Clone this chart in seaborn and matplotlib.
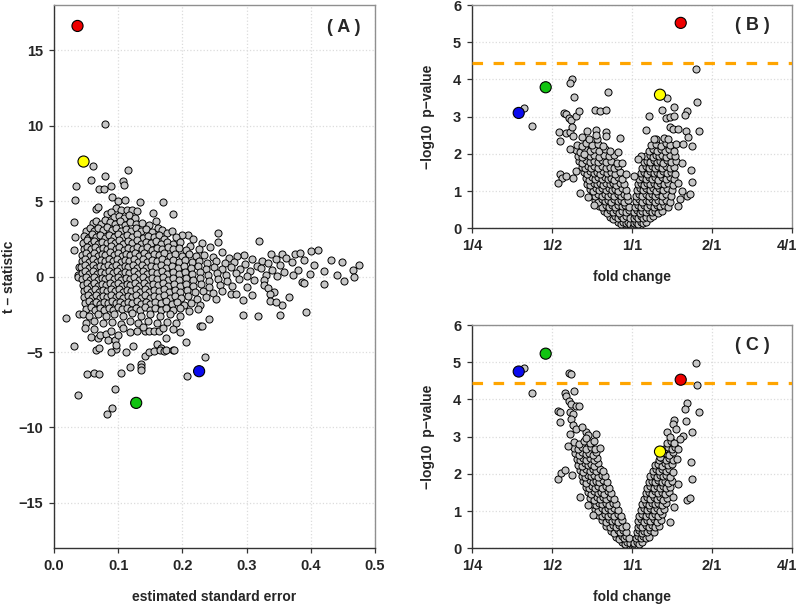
import numpy as np
import matplotlib
matplotlib.use("Agg")
import matplotlib.pyplot as plt
import matplotlib.transforms as mtransforms
import seaborn as sns

# ---------------- panel A : (standard error, t statistic) ----------------
a_upper = [
    (0.079, 10.15), (0.060, 7.35), (0.079, 6.64), (0.115, 7.04), (0.034, 6.00), (0.058, 6.42),
    (0.070, 5.83), (0.078, 5.83), (0.088, 6.00), (0.108, 6.33), (0.109, 6.05), (0.033, 5.10),
    (0.091, 5.27), (0.100, 5.00), (0.111, 5.05), (0.134, 4.98), (0.169, 4.97), (0.065, 4.50),
    (0.069, 4.60), (0.096, 4.55), (0.104, 4.40), (0.113, 4.45), (0.121, 4.42), (0.130, 4.38),
    (0.154, 4.20), (0.185, 4.12), (0.031, 3.60), (0.032, 2.60), (0.031, 1.75), (0.039, 0.64),
    (0.037, 0.12), (0.038, -0.05), (0.159, 3.68), (0.255, 2.90), (0.255, 2.27), (0.320, 2.36),
    (0.208, 2.74), (0.199, 2.78), (0.216, 2.50),
]
a_core = [
    (0.082, 4.15), (0.088, 4.30), (0.094, 3.95), (0.101, 4.05), (0.109, 3.90), (0.117, 4.08), (0.126, 3.86),
    (0.060, 3.55), (0.066, 3.70), (0.073, 3.48), (0.080, 3.75), (0.087, 3.60), (0.095, 3.52), (0.103, 3.68),
    (0.111, 3.45), (0.119, 3.62), (0.128, 3.50), (0.137, 3.58), (0.148, 3.42), (0.162, 3.20), (0.168, 3.12),
    (0.050, 3.05), (0.056, 3.25), (0.062, 3.02), (0.069, 3.20), (0.076, 3.08), (0.083, 3.28), (0.090, 3.10),
    (0.097, 3.22), (0.105, 3.00), (0.112, 3.18), (0.120, 3.05), (0.128, 3.25), (0.136, 3.02), (0.144, 3.15),
    (0.153, 2.98), (0.176, 2.92), (0.183, 3.05),
    (0.047, 2.72), (0.053, 2.55), (0.059, 2.80), (0.065, 2.62), (0.072, 2.75), (0.079, 2.58), (0.086, 2.78),
    (0.093, 2.65), (0.100, 2.82), (0.107, 2.60), (0.114, 2.76), (0.122, 2.62), (0.130, 2.80), (0.138, 2.58),
    (0.146, 2.72), (0.155, 2.60), (0.164, 2.75), (0.172, 2.52), (0.190, 2.60), (0.230, 2.20),
    (0.045, 2.25), (0.051, 2.40), (0.057, 2.18), (0.063, 2.35), (0.069, 2.15), (0.075, 2.32), (0.082, 2.20),
    (0.088, 2.38), (0.095, 2.22), (0.101, 2.42), (0.108, 2.18), (0.115, 2.35), (0.122, 2.20), (0.129, 2.40),
    (0.136, 2.15), (0.143, 2.32), (0.151, 2.22), (0.159, 2.38), (0.167, 2.18), (0.176, 2.30), (0.186, 2.15),
    (0.197, 2.28), (0.212, 2.05), (0.243, 1.95),
    (0.046, 1.85), (0.052, 1.98), (0.058, 1.80), (0.064, 1.95), (0.070, 1.78), (0.076, 1.92), (0.083, 1.82),
    (0.089, 2.00), (0.096, 1.85), (0.102, 1.95), (0.109, 1.78), (0.116, 1.92), (0.123, 1.82), (0.130, 1.98),
    (0.137, 1.80), (0.145, 1.95), (0.152, 1.78), (0.160, 1.92), (0.168, 1.84), (0.177, 1.96), (0.185, 1.80),
    (0.195, 1.90), (0.205, 1.75), (0.226, 1.85), (0.262, 1.62), (0.296, 1.42), (0.338, 1.50), (0.376, 1.52),
    (0.383, 1.56), (0.355, 1.48), (0.400, 1.70), (0.411, 1.76),
    (0.044, 1.45), (0.050, 1.58), (0.056, 1.40), (0.062, 1.55), (0.068, 1.38), (0.074, 1.52), (0.080, 1.42),
    (0.087, 1.60), (0.093, 1.45), (0.099, 1.55), (0.106, 1.38), (0.112, 1.52), (0.119, 1.42), (0.126, 1.58),
    (0.133, 1.40), (0.140, 1.55), (0.147, 1.38), (0.155, 1.52), (0.163, 1.45), (0.171, 1.58), (0.180, 1.40),
    (0.189, 1.52), (0.199, 1.38), (0.210, 1.48), (0.221, 1.35), (0.234, 1.45), (0.248, 1.30), (0.272, 1.25),
    (0.285, 1.40), (0.308, 1.20), (0.324, 1.05), (0.345, 1.15), (0.362, 1.25), (0.390, 1.10), (0.431, 1.10),
    (0.043, 1.05), (0.049, 1.18), (0.055, 1.00), (0.061, 1.15), (0.067, 0.98), (0.073, 1.12), (0.079, 1.02),
    (0.085, 1.20), (0.092, 1.05), (0.098, 1.15), (0.104, 0.98), (0.111, 1.12), (0.117, 1.02), (0.124, 1.18),
    (0.131, 1.00), (0.138, 1.15), (0.145, 0.98), (0.152, 1.12), (0.160, 1.02), (0.168, 1.18), (0.176, 0.98),
    (0.185, 1.10), (0.194, 1.00), (0.204, 1.12), (0.215, 0.95), (0.226, 1.05), (0.239, 0.92), (0.253, 1.02),
    (0.266, 0.88), (0.280, 0.98), (0.298, 0.85), (0.316, 0.72), (0.334, 0.88), (0.352, 0.75), (0.370, 0.95),
    (0.405, 0.78), (0.475, 0.77), (0.448, 0.95),
    (0.042, 0.65), (0.048, 0.78), (0.054, 0.60), (0.060, 0.75), (0.066, 0.58), (0.072, 0.72), (0.078, 0.62),
    (0.084, 0.80), (0.091, 0.65), (0.097, 0.75), (0.103, 0.58), (0.110, 0.72), (0.116, 0.62), (0.123, 0.78),
    (0.130, 0.60), (0.137, 0.75), (0.144, 0.58), (0.151, 0.72), (0.159, 0.62), (0.167, 0.78), (0.175, 0.60),
    (0.184, 0.72), (0.193, 0.58), (0.203, 0.70), (0.213, 0.55), (0.224, 0.68), (0.236, 0.52), (0.249, 0.65),
    (0.262, 0.50), (0.276, 0.62), (0.290, 0.48), (0.306, 0.40), (0.322, 0.55), (0.340, 0.42), (0.358, 0.30),
    (0.380, 0.45), (0.420, 0.35), (0.465, 0.42),
    (0.043, 0.25), (0.049, 0.38), (0.055, 0.20), (0.061, 0.35), (0.067, 0.18), (0.073, 0.32), (0.079, 0.22),
    (0.085, 0.40), (0.092, 0.25), (0.098, 0.35), (0.104, 0.18), (0.111, 0.32), (0.117, 0.22), (0.124, 0.38),
    (0.131, 0.20), (0.138, 0.35), (0.145, 0.18), (0.152, 0.32), (0.160, 0.22), (0.168, 0.38), (0.176, 0.20),
    (0.185, 0.32), (0.194, 0.18), (0.204, 0.30), (0.215, 0.15), (0.227, 0.28), (0.240, 0.12), (0.254, 0.25),
    (0.268, 0.10), (0.284, 0.22), (0.300, 0.05), (0.330, 0.12), (0.348, 0.02), (0.372, 0.08), (0.398, 0.15),
    (0.467, 0.00), (0.440, 0.10),
    (0.044, -0.15), (0.050, -0.02), (0.056, -0.20), (0.062, -0.05), (0.068, -0.22), (0.074, -0.08),
    (0.080, -0.18), (0.086, 0.00), (0.093, -0.15), (0.099, -0.05), (0.105, -0.22), (0.112, -0.08),
    (0.118, -0.18), (0.125, -0.02), (0.132, -0.20), (0.139, -0.05), (0.146, -0.22), (0.153, -0.08),
    (0.161, -0.18), (0.169, -0.02), (0.177, -0.20), (0.186, -0.08), (0.195, -0.22), (0.205, -0.10),
    (0.216, -0.25), (0.228, -0.12), (0.241, -0.28), (0.255, -0.15), (0.270, -0.30), (0.288, -0.18),
    (0.312, -0.25), (0.327, -0.20), (0.386, -0.38), (0.421, -0.51), (0.452, -0.31), (0.390, -0.40),
    (0.045, -0.55), (0.051, -0.42), (0.057, -0.60), (0.063, -0.45), (0.069, -0.62), (0.075, -0.48),
    (0.081, -0.58), (0.087, -0.40), (0.094, -0.55), (0.100, -0.45), (0.106, -0.62), (0.113, -0.48),
    (0.119, -0.58), (0.126, -0.42), (0.133, -0.60), (0.140, -0.45), (0.147, -0.62), (0.154, -0.48),
    (0.162, -0.58), (0.170, -0.42), (0.178, -0.60), (0.187, -0.48), (0.196, -0.62), (0.206, -0.50),
    (0.217, -0.65), (0.229, -0.52), (0.242, -0.68), (0.258, -0.55), (0.278, -0.62), (0.300, -0.70),
    (0.327, -0.55), (0.334, -0.75),
    (0.046, -0.95), (0.052, -0.82), (0.058, -1.00), (0.064, -0.85), (0.070, -1.02), (0.076, -0.88),
    (0.082, -0.98), (0.088, -0.80), (0.095, -0.95), (0.101, -0.85), (0.107, -1.02), (0.114, -0.88),
    (0.120, -0.98), (0.127, -0.82), (0.134, -1.00), (0.141, -0.85), (0.148, -1.02), (0.155, -0.88),
    (0.163, -0.98), (0.171, -0.82), (0.179, -1.00), (0.188, -0.88), (0.197, -1.02), (0.207, -0.90),
    (0.219, -1.05), (0.232, -0.92), (0.247, -1.08), (0.262, -0.95), (0.276, -1.13), (0.284, -1.15),
    (0.343, -0.99), (0.336, -1.17),
    (0.047, -1.35), (0.053, -1.22), (0.059, -1.40), (0.065, -1.25), (0.071, -1.42), (0.077, -1.28),
    (0.083, -1.38), (0.089, -1.20), (0.096, -1.35), (0.102, -1.25), (0.108, -1.42), (0.115, -1.28),
    (0.121, -1.38), (0.128, -1.22), (0.135, -1.40), (0.142, -1.25), (0.149, -1.42), (0.156, -1.28),
    (0.164, -1.38), (0.172, -1.22), (0.180, -1.40), (0.189, -1.28), (0.198, -1.42), (0.209, -1.30),
    (0.222, -1.45), (0.236, -1.35), (0.252, -1.48), (0.295, -1.52), (0.309, -1.24), (0.366, -1.32),
    (0.048, -1.75), (0.054, -1.62), (0.060, -1.80), (0.066, -1.65), (0.072, -1.82), (0.078, -1.68),
    (0.084, -1.78), (0.090, -1.60), (0.097, -1.75), (0.103, -1.65), (0.109, -1.82), (0.116, -1.68),
    (0.122, -1.78), (0.129, -1.62), (0.136, -1.80), (0.143, -1.65), (0.150, -1.82), (0.158, -1.68),
    (0.166, -1.78), (0.174, -1.62), (0.183, -1.80), (0.192, -1.70), (0.202, -1.85), (0.214, -1.72),
    (0.228, -1.88), (0.337, -1.64), (0.355, -1.85), (0.345, -1.70),
    (0.050, -2.15), (0.057, -2.02), (0.064, -2.20), (0.071, -2.05), (0.078, -2.22), (0.085, -2.08),
    (0.092, -2.18), (0.099, -2.00), (0.106, -2.15), (0.113, -2.05), (0.120, -2.22), (0.127, -2.08),
    (0.134, -2.18), (0.141, -2.02), (0.149, -2.20), (0.157, -2.05), (0.166, -2.22), (0.175, -2.08),
    (0.185, -2.18), (0.196, -2.05), (0.210, -2.25), (0.224, -2.12),
]
a_lower = [
    (0.039, -2.50), (0.045, -2.50), (0.055, -2.60), (0.068, -2.45), (0.081, -2.62), (0.094, -2.48),
    (0.108, -2.58), (0.121, -2.42), (0.136, -2.60), (0.150, -2.45), (0.165, -2.62), (0.180, -2.50),
    (0.196, -2.58), (0.019, -2.74), (0.242, -2.83), (0.294, -2.54), (0.317, -2.63), (0.352, -2.54),
    (0.392, -2.34), (0.228, -3.29), (0.230, -3.27),
    (0.050, -3.05), (0.062, -2.95), (0.076, -3.10), (0.091, -2.98), (0.104, -3.12), (0.118, -2.92),
    (0.131, -3.08), (0.146, -2.95), (0.160, -3.10), (0.176, -2.98), (0.190, -3.05), (0.049, -3.38),
    (0.058, -4.00), (0.068, -4.10), (0.072, -3.84),
    (0.081, -3.78), (0.088, -3.62), (0.084, -4.22), (0.095, -4.22), (0.096, -4.80), (0.088, -4.99),
    (0.097, -4.50), (0.112, -4.97), (0.123, -4.60), (0.119, -3.69), (0.129, -3.58), (0.142, -3.60),
    (0.148, -3.62), (0.156, -3.60), (0.163, -3.62), (0.161, -4.49), (0.166, -4.70), (0.196, -3.67),
    (0.206, -4.35), (0.066, -4.88), (0.070, -4.70), (0.108, -3.40), (0.138, -3.35), (0.170, -3.38),
    (0.185, -3.45), (0.062, -3.50), (0.100, -3.85), (0.175, -4.05),
    (0.031, -4.62), (0.051, -6.43), (0.062, -6.36), (0.070, -6.47), (0.104, -6.38), (0.118, -5.99),
    (0.135, -5.77), (0.135, -6.00), (0.135, -6.22), (0.141, -5.25), (0.148, -5.00), (0.156, -4.90),
    (0.165, -4.88), (0.172, -4.90), (0.175, -4.85), (0.185, -4.88), (0.187, -4.88), (0.235, -5.33),
    (0.207, -6.56), (0.095, -7.45), (0.037, -7.88), (0.082, -9.14), (0.090, -8.72),
]

# ---------------- panel B : (log2 fold change, -log10 p) ----------------
b_left = [
    (-0.10, 0.04), (-0.07, 0.08), (-0.05, 0.02), (-0.03, 0.06), (-0.015, 0.03),
    (-0.17, 0.16), (-0.14, 0.12), (-0.11, 0.18), (-0.08, 0.14), (-0.05, 0.17), (-0.02, 0.12),
    (-0.27, 0.30), (-0.24, 0.26), (-0.21, 0.33), (-0.17, 0.28), (-0.14, 0.34), (-0.11, 0.27), (-0.07, 0.32), (-0.03, 0.29),
    (-0.35, 0.46), (-0.31, 0.42), (-0.28, 0.49), (-0.24, 0.44), (-0.20, 0.48), (-0.16, 0.42), (-0.12, 0.47), (-0.08, 0.43), (-0.04, 0.48),
    (-0.41, 0.60), (-0.37, 0.56), (-0.33, 0.63), (-0.29, 0.58), (-0.25, 0.62), (-0.21, 0.57), (-0.17, 0.63), (-0.13, 0.59), (-0.09, 0.62), (-0.04, 0.57),
    (-0.46, 0.76), (-0.42, 0.72), (-0.38, 0.78), (-0.34, 0.73), (-0.30, 0.77), (-0.26, 0.71), (-0.22, 0.78), (-0.18, 0.74), (-0.14, 0.77), (-0.10, 0.72), (-0.05, 0.76),
    (-0.50, 0.90), (-0.46, 0.86), (-0.42, 0.93), (-0.38, 0.88), (-0.34, 0.92), (-0.30, 0.87), (-0.26, 0.93), (-0.22, 0.88), (-0.18, 0.91), (-0.14, 0.86), (-0.10, 0.92), (-0.06, 0.88),
    (-0.53, 1.05), (-0.49, 1.01), (-0.45, 1.08), (-0.41, 1.03), (-0.37, 1.07), (-0.33, 1.02), (-0.29, 1.08), (-0.25, 1.03), (-0.21, 1.06), (-0.17, 1.01), (-0.13, 1.07), (-0.08, 1.03),
    (-0.56, 1.20), (-0.52, 1.16), (-0.48, 1.23), (-0.44, 1.18), (-0.40, 1.22), (-0.36, 1.17), (-0.32, 1.23), (-0.28, 1.18), (-0.24, 1.21), (-0.20, 1.16), (-0.15, 1.22), (-0.10, 1.18),
    (-0.58, 1.35), (-0.54, 1.31), (-0.50, 1.38), (-0.46, 1.33), (-0.42, 1.37), (-0.38, 1.32), (-0.34, 1.38), (-0.30, 1.33), (-0.26, 1.36), (-0.22, 1.31), (-0.17, 1.37), (-0.12, 1.33),
    (-0.60, 1.50), (-0.56, 1.46), (-0.52, 1.53), (-0.48, 1.48), (-0.44, 1.52), (-0.40, 1.47), (-0.36, 1.53), (-0.31, 1.48), (-0.26, 1.51), (-0.21, 1.46), (-0.15, 1.52),
    (-0.63, 1.65), (-0.59, 1.61), (-0.55, 1.68), (-0.51, 1.63), (-0.47, 1.67), (-0.43, 1.62), (-0.38, 1.68), (-0.33, 1.63), (-0.28, 1.66), (-0.23, 1.61), (-0.17, 1.67),
    (-0.66, 1.80), (-0.62, 1.76), (-0.57, 1.83), (-0.53, 1.78), (-0.48, 1.82), (-0.43, 1.77), (-0.38, 1.83), (-0.33, 1.78), (-0.26, 1.81), (-0.19, 1.76),
    (-0.68, 1.95), (-0.63, 1.91), (-0.58, 1.98), (-0.53, 1.93), (-0.47, 1.97), (-0.41, 1.92), (-0.35, 1.98), (-0.29, 1.93), (-0.22, 1.96),
    (-0.70, 2.10), (-0.65, 2.06), (-0.59, 2.13), (-0.53, 2.08), (-0.47, 2.12), (-0.41, 2.07), (-0.34, 2.13), (-0.28, 2.08),
    (-0.69, 2.25), (-0.63, 2.21), (-0.57, 2.28), (-0.50, 2.23), (-0.43, 2.27), (-0.36, 2.22),
    (-0.75, 4.01), (-0.78, 3.91), (-0.72, 3.52), (-0.295, 3.66), (-0.845, 3.11), (-0.82, 3.06), (-0.79, 2.97),
    (-0.76, 2.91), (-0.70, 3.02), (-0.66, 3.15), (-0.457, 3.17), (-0.40, 3.16), (-0.33, 3.17), (-1.25, 2.74),
    (-1.35, 3.22), (-0.91, 2.58), (-0.90, 2.34), (-0.83, 2.57), (-0.77, 2.59), (-0.75, 2.73), (-0.74, 2.48),
    (-0.56, 2.61), (-0.54, 2.40), (-0.45, 2.64), (-0.44, 2.40), (-0.33, 2.58), (-0.33, 2.48), (-0.45, 2.50),
    (-0.145, 2.43), (-0.78, 2.14), (-0.90, 1.45), (-0.875, 1.34), (-0.92, 1.22), (-0.83, 1.41), (-0.74, 1.35),
    (-0.65, 0.94), (-0.55, 0.83), (-0.48, 0.63), (-0.60, 2.00), (-0.62, 2.45), (-0.18, 2.05), (-0.12, 1.75),
    (-0.08, 1.45), (-0.70, 1.55),
]
b_right = [
    (0.01, 0.03), (0.03, 0.07), (0.05, 0.02), (0.07, 0.05), (0.10, 0.08),
    (0.02, 0.14), (0.05, 0.18), (0.08, 0.12), (0.11, 0.17), (0.14, 0.13), (0.18, 0.16),
    (0.02, 0.28), (0.05, 0.32), (0.08, 0.27), (0.11, 0.33), (0.14, 0.28), (0.18, 0.31), (0.22, 0.27), (0.26, 0.33),
    (0.03, 0.44), (0.06, 0.48), (0.10, 0.42), (0.13, 0.47), (0.17, 0.43), (0.21, 0.48), (0.25, 0.44), (0.29, 0.47), (0.33, 0.42), (0.38, 0.46),
    (0.04, 0.58), (0.07, 0.62), (0.11, 0.57), (0.15, 0.63), (0.19, 0.58), (0.23, 0.62), (0.27, 0.57), (0.31, 0.63), (0.35, 0.59), (0.40, 0.62), (0.45, 0.56),
    (0.05, 0.74), (0.09, 0.78), (0.13, 0.72), (0.17, 0.77), (0.21, 0.73), (0.25, 0.78), (0.29, 0.72), (0.33, 0.77), (0.37, 0.73), (0.42, 0.77), (0.47, 0.72),
    (0.05, 0.88), (0.09, 0.92), (0.13, 0.87), (0.17, 0.93), (0.21, 0.88), (0.25, 0.92), (0.29, 0.86), (0.33, 0.93), (0.38, 0.88), (0.43, 0.92), (0.49, 0.87),
    (0.06, 1.03), (0.10, 1.07), (0.14, 1.02), (0.18, 1.08), (0.22, 1.03), (0.26, 1.07), (0.30, 1.01), (0.34, 1.08), (0.39, 1.03), (0.44, 1.07), (0.50, 1.02),
    (0.07, 1.18), (0.11, 1.22), (0.15, 1.17), (0.19, 1.23), (0.23, 1.18), (0.27, 1.22), (0.31, 1.16), (0.35, 1.23), (0.40, 1.18), (0.45, 1.22), (0.51, 1.17),
    (0.09, 1.33), (0.13, 1.37), (0.17, 1.32), (0.21, 1.38), (0.25, 1.33), (0.29, 1.37), (0.33, 1.31), (0.37, 1.38), (0.42, 1.33), (0.47, 1.37), (0.52, 1.32),
    (0.11, 1.48), (0.15, 1.52), (0.19, 1.47), (0.23, 1.53), (0.27, 1.48), (0.31, 1.52), (0.35, 1.46), (0.39, 1.53), (0.44, 1.48), (0.49, 1.52), (0.54, 1.47),
    (0.13, 1.63), (0.17, 1.67), (0.21, 1.62), (0.25, 1.68), (0.29, 1.63), (0.33, 1.67), (0.37, 1.61), (0.42, 1.68), (0.47, 1.63), (0.53, 1.66),
    (0.15, 1.78), (0.19, 1.82), (0.23, 1.77), (0.27, 1.83), (0.31, 1.78), (0.35, 1.82), (0.39, 1.76), (0.44, 1.83), (0.49, 1.78), (0.55, 1.81),
    (0.18, 1.93), (0.22, 1.97), (0.26, 1.92), (0.30, 1.98), (0.34, 1.93), (0.38, 1.97), (0.43, 1.91), (0.48, 1.98), (0.54, 1.93),
    (0.21, 2.08), (0.26, 2.12), (0.31, 2.07), (0.36, 2.13), (0.41, 2.08), (0.46, 2.12), (0.52, 2.07),
    (0.24, 2.23), (0.30, 2.27), (0.36, 2.22), (0.42, 2.28), (0.48, 2.23), (0.55, 2.27),
    (0.80, 4.27), (0.81, 3.39), (0.525, 3.25), (0.37, 3.17), (0.69, 3.16), (0.66, 3.05), (0.43, 2.97),
    (0.47, 2.98), (0.525, 3.01), (0.21, 3.02), (0.17, 2.65), (0.84, 2.61), (0.67, 2.61), (0.475, 2.73),
    (0.51, 2.66), (0.57, 2.66), (0.755, 2.21), (0.64, 2.26), (0.30, 2.41), (0.275, 2.39), (0.11, 1.95),
    (0.74, 1.58), (0.755, 1.24), (0.58, 1.21), (0.69, 0.87), (0.73, 0.91), (0.60, 0.80), (0.70, 2.46),
    (0.40, 2.42), (0.45, 2.40), (0.44, 3.50), (0.03, 1.40), (0.08, 1.85), (0.62, 1.75), (0.58, 0.60),
    (0.62, 1.00),
]

# ---------------- panel C : (log2 fold change, -log10 p) ----------------
c_left = [
    (-0.05, 0.04), (-0.03, 0.08), (-0.015, 0.03), (-0.08, 0.06),
    (-0.12, 0.16), (-0.09, 0.12), (-0.06, 0.18), (-0.03, 0.14),
    (-0.20, 0.30), (-0.16, 0.26), (-0.13, 0.33), (-0.10, 0.28), (-0.07, 0.32), (-0.04, 0.27),
    (-0.26, 0.46), (-0.22, 0.42), (-0.18, 0.49), (-0.15, 0.44), (-0.11, 0.48), (-0.07, 0.43),
    (-0.32, 0.60), (-0.28, 0.56), (-0.24, 0.63), (-0.20, 0.58), (-0.16, 0.62), (-0.12, 0.57), (-0.08, 0.61),
    (-0.37, 0.76), (-0.33, 0.72), (-0.29, 0.78), (-0.25, 0.73), (-0.21, 0.77), (-0.17, 0.71), (-0.12, 0.76),
    (-0.42, 0.90), (-0.38, 0.86), (-0.34, 0.93), (-0.30, 0.88), (-0.26, 0.92), (-0.22, 0.87), (-0.18, 0.93), (-0.14, 0.88),
    (-0.46, 1.05), (-0.42, 1.01), (-0.38, 1.08), (-0.34, 1.03), (-0.30, 1.07), (-0.26, 1.02), (-0.22, 1.08), (-0.17, 1.03),
    (-0.49, 1.20), (-0.45, 1.16), (-0.41, 1.23), (-0.37, 1.18), (-0.33, 1.22), (-0.29, 1.17), (-0.24, 1.23), (-0.20, 1.18),
    (-0.52, 1.35), (-0.48, 1.31), (-0.44, 1.38), (-0.40, 1.33), (-0.36, 1.37), (-0.32, 1.32), (-0.27, 1.38), (-0.23, 1.33),
    (-0.55, 1.50), (-0.51, 1.46), (-0.47, 1.53), (-0.43, 1.48), (-0.39, 1.52), (-0.35, 1.47), (-0.30, 1.53), (-0.26, 1.48),
    (-0.58, 1.65), (-0.54, 1.61), (-0.50, 1.68), (-0.46, 1.63), (-0.42, 1.67), (-0.38, 1.62), (-0.33, 1.68), (-0.29, 1.63),
    (-0.61, 1.80), (-0.57, 1.76), (-0.53, 1.83), (-0.49, 1.78), (-0.45, 1.82), (-0.41, 1.77), (-0.36, 1.83), (-0.31, 1.78),
    (-0.63, 1.95), (-0.59, 1.91), (-0.55, 1.98), (-0.51, 1.93), (-0.47, 1.97), (-0.43, 1.92), (-0.38, 1.98), (-0.34, 1.93),
    (-0.65, 2.10), (-0.61, 2.06), (-0.57, 2.13), (-0.53, 2.08), (-0.49, 2.12), (-0.45, 2.07), (-0.40, 2.13), (-0.36, 2.08),
    (-0.67, 2.25), (-0.63, 2.21), (-0.59, 2.28), (-0.55, 2.23), (-0.51, 2.27), (-0.47, 2.22), (-0.42, 2.28),
    (-0.69, 2.40), (-0.65, 2.36), (-0.61, 2.43), (-0.57, 2.38), (-0.53, 2.42), (-0.48, 2.37), (-0.44, 2.43),
    (-0.71, 2.55), (-0.66, 2.51), (-0.62, 2.58), (-0.58, 2.53), (-0.54, 2.57), (-0.49, 2.52), (-0.45, 2.58),
    (-0.72, 2.70), (-0.67, 2.66), (-0.62, 2.73), (-0.57, 2.68), (-0.51, 2.72), (-0.46, 2.67),
    (-0.73, 2.85), (-0.66, 2.81), (-0.60, 2.88), (-0.53, 2.83), (-0.47, 2.87),
    (-0.84, 4.17), (-0.82, 4.08), (-0.79, 3.97), (-0.76, 3.88), (-0.70, 3.82), (-0.66, 3.83), (-0.72, 4.24),
    (-0.92, 3.70), (-0.90, 3.66), (-0.90, 3.39), (-0.77, 3.67), (-0.74, 3.60), (-0.76, 3.47), (-0.74, 3.31),
    (-0.78, 3.06), (-0.57, 3.13), (-0.55, 3.05), (-0.58, 2.96), (-0.45, 3.07), (-1.25, 4.17), (-1.35, 4.85),
    (-0.79, 4.71), (-0.76, 4.68), (-0.92, 1.86), (-0.89, 2.03), (-0.84, 2.10), (-0.745, 1.97), (-0.65, 1.37),
    (-0.55, 1.16), (-0.49, 0.90), (-0.70, 3.20), (-0.62, 3.25), (-0.80, 2.75), (-0.40, 2.70),
]
c_right = [
    (0.015, 0.04), (0.03, 0.08), (0.05, 0.03), (0.08, 0.06),
    (0.03, 0.14), (0.06, 0.18), (0.09, 0.12), (0.12, 0.16),
    (0.05, 0.28), (0.08, 0.32), (0.11, 0.27), (0.14, 0.33), (0.17, 0.28), (0.21, 0.31),
    (0.06, 0.44), (0.09, 0.48), (0.12, 0.42), (0.15, 0.47), (0.19, 0.43), (0.23, 0.48), (0.27, 0.44),
    (0.07, 0.58), (0.10, 0.62), (0.13, 0.57), (0.17, 0.63), (0.21, 0.58), (0.25, 0.62), (0.29, 0.57), (0.34, 0.61),
    (0.08, 0.74), (0.11, 0.78), (0.15, 0.72), (0.19, 0.77), (0.23, 0.73), (0.27, 0.78), (0.31, 0.72), (0.36, 0.76),
    (0.09, 0.88), (0.13, 0.92), (0.17, 0.87), (0.21, 0.93), (0.25, 0.88), (0.29, 0.92), (0.33, 0.86), (0.38, 0.91),
    (0.11, 1.03), (0.15, 1.07), (0.19, 1.02), (0.23, 1.08), (0.27, 1.03), (0.31, 1.07), (0.35, 1.01), (0.40, 1.06),
    (0.13, 1.18), (0.17, 1.22), (0.21, 1.17), (0.25, 1.23), (0.29, 1.18), (0.33, 1.22), (0.37, 1.16), (0.42, 1.21),
    (0.15, 1.33), (0.19, 1.37), (0.23, 1.32), (0.27, 1.38), (0.31, 1.33), (0.35, 1.37), (0.39, 1.31), (0.44, 1.36),
    (0.17, 1.48), (0.21, 1.52), (0.25, 1.47), (0.29, 1.53), (0.33, 1.48), (0.37, 1.52), (0.41, 1.46), (0.46, 1.51),
    (0.19, 1.63), (0.23, 1.67), (0.27, 1.62), (0.31, 1.68), (0.35, 1.63), (0.39, 1.67), (0.43, 1.61), (0.48, 1.66),
    (0.21, 1.78), (0.25, 1.82), (0.29, 1.77), (0.33, 1.83), (0.37, 1.78), (0.41, 1.82), (0.45, 1.76), (0.50, 1.81),
    (0.23, 1.93), (0.27, 1.97), (0.31, 1.92), (0.35, 1.98), (0.39, 1.93), (0.43, 1.97), (0.48, 1.91),
    (0.26, 2.08), (0.30, 2.12), (0.34, 2.07), (0.38, 2.13), (0.42, 2.08), (0.46, 2.12), (0.51, 2.06),
    (0.29, 2.23), (0.33, 2.27), (0.37, 2.22), (0.41, 2.28), (0.45, 2.23), (0.50, 2.27),
    (0.34, 2.38), (0.38, 2.42), (0.42, 2.37), (0.46, 2.43), (0.51, 2.38),
    (0.38, 2.53), (0.42, 2.57), (0.46, 2.52), (0.51, 2.58),
    (0.40, 2.68), (0.45, 2.72), (0.50, 2.67), (0.54, 2.73),
    (0.44, 2.83), (0.49, 2.87), (0.53, 2.82),
    (0.81, 4.39), (0.80, 4.99), (0.69, 3.91), (0.66, 3.75), (0.84, 3.67), (0.52, 3.44), (0.51, 3.33),
    (0.555, 3.20), (0.44, 3.12), (0.67, 3.41), (0.755, 3.12), (0.64, 3.02), (0.58, 2.66), (0.74, 2.32),
    (0.75, 1.85), (0.58, 1.72), (0.51, 1.37), (0.69, 1.30), (0.73, 1.36), (0.47, 0.72), (0.60, 2.95),
    (0.48, 3.00), (0.56, 2.40), (0.53, 1.10), (0.35, 2.45),
]

# ---------------- highlighted genes ----------------
hl_names = ["red", "yellow", "green", "blue"]
hl_colors = ["#ee0000", "#ffff00", "#11c411", "#0a0aee"]
hl_se = [0.0366, 0.046, 0.128, 0.226]
hl_t = [16.62, 7.63, -8.37, -6.27]
hl_lfc = [0.609, 0.350, -1.079, -1.416]
hl_p_b = [5.52, 3.59, 3.79, 3.10]
hl_p_c = [4.53, 2.60, 5.23, 4.75]
cutoff = 4.44

fc_ticks = [-2, -1, 0, 1, 2]
fc_labels = ["1/4", "1/2", "1/1", "2/1", "4/1"]

sns.set_style("white")
plt.rcParams["font.family"] = ["Liberation Sans", "DejaVu Sans"]
plt.rcParams["font.weight"] = "bold"
plt.rcParams["axes.labelweight"] = "bold"

fig = plt.figure(figsize=(8, 6.04), dpi=100)
ax_a = fig.add_axes([0.0675, 0.0925, 0.4013, 0.899])
ax_b = fig.add_axes([0.59, 0.622, 0.40, 0.3697])
ax_c = fig.add_axes([0.59, 0.0922, 0.40, 0.3697])

pal = dict(zip(hl_names, hl_colors))
grey = "#c6c6c6"


def style(ax):
    for side in ["top", "right"]:
        ax.spines[side].set_color("#8f8f8f")
    for side in ["left", "bottom"]:
        ax.spines[side].set_color("#333333")
    for sp in ax.spines.values():
        sp.set_linewidth(1.0)
    ax.grid(True, color="#dcdcdc", linestyle=":", linewidth=0.9)
    ax.set_axisbelow(True)
    ax.tick_params(bottom=True, left=True, direction="out", length=3.8, width=0.9,
                   color="#333333", labelsize=10.5, pad=4)


def draw(ax, pts, hx, hy, line=False):
    arr = np.array(pts)
    sns.scatterplot(x=arr[:, 0], y=arr[:, 1], ax=ax, color=grey, s=26,
                    edgecolor="black", linewidth=0.7, legend=False, zorder=2)
    if line:
        ax.axhline(cutoff, color="#ffa500", linewidth=2.3, linestyle=(0, (3.3, 3.3)), zorder=3)
    sns.scatterplot(x=hx, y=hy, hue=hl_names, palette=pal, ax=ax, s=64,
                    edgecolor="black", linewidth=0.8, legend=False, zorder=4)


# panel A
draw(ax_a, a_upper + a_core + a_lower, hl_se, hl_t)
ax_a.set_xlim(0, 0.5)
ax_a.set_ylim(-18, 18)
ax_a.set_xticks([0.0, 0.1, 0.2, 0.3, 0.4, 0.5])
ax_a.set_xticklabels(["0.0", "0.1", "0.2", "0.3", "0.4", "0.5"])
ax_a.set_yticks([-15, -10, -5, 0, 5, 10, 15])
ax_a.set_xlabel("estimated standard error", fontsize=10, labelpad=12)
ax_a.set_ylabel("t \u2013 statistic", fontsize=10, labelpad=2)
ax_a.text(0.451, 16.5, "( A )", fontsize=13, fontweight="bold", ha="center", va="center")
style(ax_a)

# panels B and C
nudge = mtransforms.ScaledTranslation(-0.05, 0, fig.dpi_scale_trans)
for ax, pts, hp, tag in [(ax_b, b_left + b_right, hl_p_b, "( B )"),
                         (ax_c, c_left + c_right, hl_p_c, "( C )")]:
    draw(ax, pts, hl_lfc, hp, line=True)
    ax.set_xlim(-2, 2)
    ax.set_ylim(0, 6)
    ax.set_xticks(fc_ticks)
    ax.set_xticklabels(fc_labels)
    ax.set_yticks([0, 1, 2, 3, 4, 5, 6])
    ax.set_xlabel("fold change", fontsize=10, labelpad=12)
    ax.set_ylabel("\u2212log10  p\u2212value", fontsize=10, labelpad=13)
    ax.text(1.5, 5.45, tag, fontsize=13, fontweight="bold", ha="center", va="center")
    style(ax)
    # keep the last tick label ("4/1") inside the canvas
    last = ax.get_xticklabels()[-1]
    last.set_transform(last.get_transform() + nudge)

fig.savefig("out.png", dpi=100)
